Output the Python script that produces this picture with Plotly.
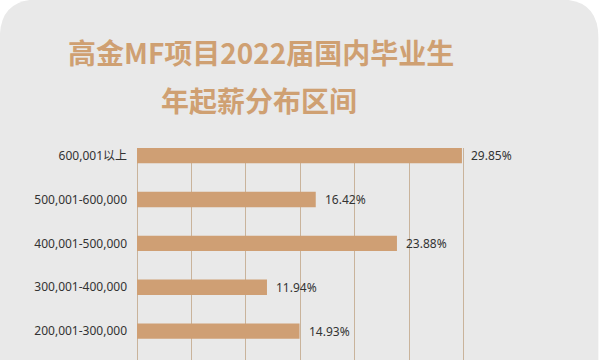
import plotly.graph_objects as go

categories = ["600,001以上", "500,001-600,000", "400,001-500,000", "300,001-400,000", "200,001-300,000"]
values = [29.85, 16.42, 23.88, 11.94, 14.93]
value_labels = ["29.85%", "16.42%", "23.88%", "11.94%", "14.93%"]
title_lines = ["高金MF项目2022届国内毕业生", "年起薪分布区间"]

W, H = 599, 360
L, R, T, B = 137, 81.3, 148.3, 0
pw, ph = W - L - R, H - T - B

def px(x):
    return (x - L) / pw

def py(y):
    return (H - y) / ph

fig = go.Figure()
fig.add_trace(go.Bar(
    x=values, y=categories, orientation="h", width=0.35,
    marker=dict(color="#cf9f74", line=dict(width=0)),
    hoverinfo="skip",
))

for v, c, t in zip(values, categories, value_labels):
    fig.add_annotation(x=v, y=c, text=t, showarrow=False, xanchor="left", xshift=7,
                       font=dict(family="Noto Sans, Noto Sans CJK SC", size=12, color="#333333"))

# title lines
tcol = "#cfa072"
fig.add_annotation(x=px(261), y=py(52), xref="paper", yref="paper", text="<b>" + title_lines[0] + "</b>",
                   showarrow=False, xanchor="center", yanchor="middle",
                   font=dict(family="Noto Sans CJK SC", size=28, color=tcol))
fig.add_annotation(x=px(259), y=py(100.5), xref="paper", yref="paper", text="<b>" + title_lines[1] + "</b>",
                   showarrow=False, xanchor="center", yanchor="middle",
                   font=dict(family="Noto Sans CJK SC", size=28, color=tcol))

# rounded card background
r = 38
x0, x1, y0, y1 = 0, 598, 0, 420
path = (f"M {px(x0)},{py(y1)} L {px(x0)},{py(y0 + r)} Q {px(x0)},{py(y0)} {px(x0 + r)},{py(y0)} "
        f"L {px(x1 - r)},{py(y0)} Q {px(x1)},{py(y0)} {px(x1)},{py(y0 + r)} L {px(x1)},{py(y1)} Z")
fig.add_shape(type="path", path=path, xref="paper", yref="paper", layer="below",
              fillcolor="#e9e9e9", line=dict(width=0))

fig.update_layout(
    width=W, height=H,
    margin=dict(l=L, r=R, t=T, b=B, pad=0),
    paper_bgcolor="#ffffff", plot_bgcolor="rgba(0,0,0,0)",
    showlegend=False,
    xaxis=dict(range=[0, 35], dtick=5, tick0=0, showticklabels=False, showgrid=True,
               gridcolor="#c9b39b", gridwidth=1, zeroline=True, zerolinecolor="#c9b39b",
               zerolinewidth=1, fixedrange=True),
    yaxis=dict(range=[4.66, -0.175], showgrid=False, zeroline=False, ticks="",
               ticklabelstandoff=9,
               tickfont=dict(family="Noto Sans, Noto Sans CJK SC", size=12, color="#333333")),
)

fig.write_html("out.html", config={"displayModeBar": False},
               post_script="document.body.style.margin='0';document.body.style.overflow='hidden';")
